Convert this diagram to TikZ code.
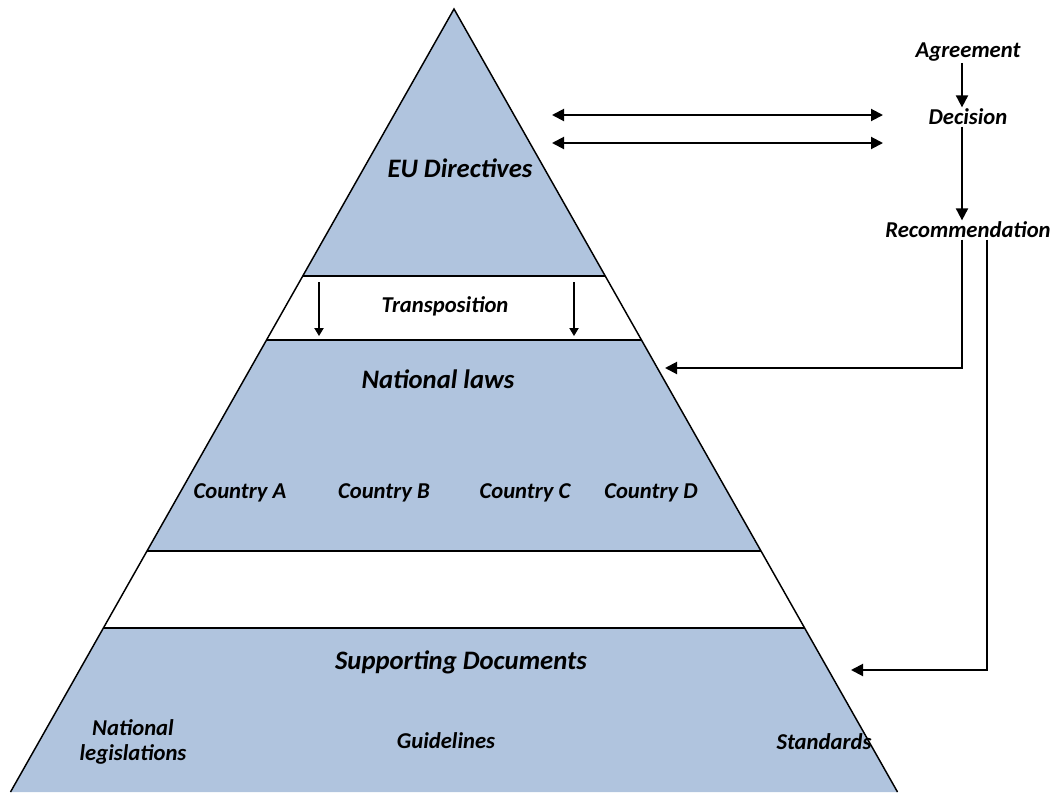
\documentclass[tikz,border=0pt]{standalone}
\usepackage{fontspec}
\setmainfont{Carlito}
\usetikzlibrary{arrows.meta,calc}

\begin{document}
\begin{tikzpicture}[x=0.75pt,y=-0.75pt,
			band node/.style={fill={rgb,255:red,176;green,196;blue,222}},
			label node/.style={font=\fontsize{17}{19}\selectfont\bfseries\itshape,inner sep=1pt,align=center},
			head node/.style={label node,font=\fontsize{20}{22}\selectfont\bfseries\itshape},
			big arrow/.style={line width=1.5pt,-{Triangle[length=9pt,width=9pt]}},
			small arrow/.style={line width=0.8pt,-{Triangle[length=6pt,width=7pt]}}
			]

			\useasboundingbox (0,0) rectangle (1059,792);

			% the pyramid
			\coordinate (top) at (454,9);
			\coordinate (bl) at (10.5,792);
			\coordinate (br) at (897.5,792);
			\def \h {783};

			\foreach \a/\b in {9/276,340/551,628/792} {
				\fill[band node] ($(top)!{(\a-9)/\h}!(bl)$) -- ($(top)!{(\b-9)/\h}!(bl)$)
					-- ($(top)!{(\b-9)/\h}!(br)$) -- ($(top)!{(\a-9)/\h}!(br)$) -- cycle;
			}
			\foreach \a in {276,340,551,628} {
				\draw[line width=1.1pt] ($(top)!{(\a-9)/\h}!(bl)$) -- ($(top)!{(\a-9)/\h}!(br)$);
			}
			\draw[line width=1.1pt,line join=miter] (bl) -- (top) -- (br);

			% texts in the pyramid
			\node[head node] (eu) at (460,168) {EU Directives};
			\node[label node] (trans) at (445,306) {Transposition};
			\node[head node] (natl) at (438,379) {National laws};
			\node[label node] (ca) at (240,493) {Country A};
			\node[label node] (cb) at (384,493) {Country B};
			\node[label node] (cc) at (525,493) {Country C};
			\node[label node] (cd) at (651,493) {Country D};
			\node[head node] (supp) at (461,662) {Supporting Documents};
			\node[label node] (nleg) at (133,742) {National\\legislations};
			\node[label node] (guid) at (446,741) {Guidelines};
			\node[label node] (std) at (824,742) {Standards};

			% right hand side
			\node[label node] (agr) at (968,52) {Agreement};
			\node[label node] (dec) at (968,117) {Decision};
			\node[label node] (rec) at (968,230) {Recommendation};

			\coordinate (agr l) at (552,115);
			\coordinate (agr r) at (883,115);
			\coordinate (dec l) at (552,143);
			\coordinate (dec r) at (883,143);
			\coordinate (natl in) at (665,368);
			\coordinate (supp in) at (851,670);
			\coordinate (tr1 a) at (319,282);
			\coordinate (tr1 b) at (319,336);
			\coordinate (tr2 a) at (574,282);
			\coordinate (tr2 b) at (574,336);

			\draw[big arrow,{Triangle[length=9pt,width=9pt]}-{Triangle[length=9pt,width=9pt]}] (agr l) -- (agr r);
			\draw[big arrow,{Triangle[length=9pt,width=9pt]}-{Triangle[length=9pt,width=9pt]}] (dec l) -- (dec r);
			\draw[big arrow] ([xshift=-4.5pt]agr.south) -- ([xshift=-4.5pt]dec.north);
			\draw[big arrow] ([xshift=-4.5pt]dec.south) -- ([xshift=-4.5pt]rec.north);
			\draw[big arrow] ([xshift=-4.5pt]rec.south) |- (natl in);
			\draw[big arrow] ([xshift=14.6pt]rec.south) |- (supp in);

			\draw[small arrow] (tr1 a) -- (tr1 b);
			\draw[small arrow] (tr2 a) -- (tr2 b);
		\end{tikzpicture}
\end{document}
